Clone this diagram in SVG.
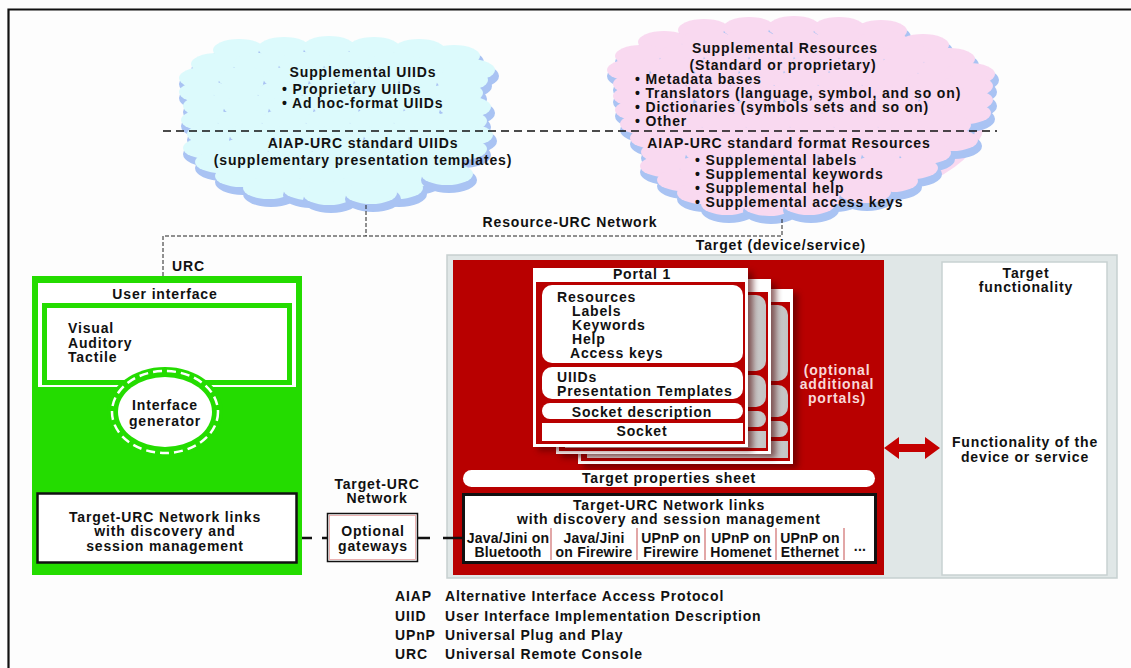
<svg xmlns="http://www.w3.org/2000/svg" xmlns:xlink="http://www.w3.org/1999/xlink" width="1131" height="668" viewBox="0 0 1131 668">
  <style>
    .t { font-family: "Liberation Sans", Arial, sans-serif; font-weight: bold; font-size: 14px; letter-spacing: 0.85px; fill: #111; }
    .c { text-anchor: middle; }
    .cell { letter-spacing: 0.2px; }
    .pink { fill: #f8d8d8; }
    .lobe { fill: #a9c3f3; }
    .thin { fill: none; stroke: #222; stroke-width: 1; stroke-dasharray: 4 2; }
    .thick { fill: none; stroke: #111; stroke-width: 2.5; }
    .sep { stroke: #d88a8a; stroke-width: 1.5; }
    .red { fill: #b80000; }
  </style>
  <defs>
    <!-- one fluffy cloud puff: bluish underside plus a body in the cloud colour -->
    <g id="puff">
      <ellipse class="lobe" cx="1" cy="6" rx="28" ry="13"/>
      <ellipse cx="-1" cy="0" rx="26" ry="11" fill="currentColor"/>
    </g>
    <linearGradient id="grayBox" x1="0" y1="0" x2="1" y2="0">
      <stop offset="0" stop-color="#f6f6f6"/>
      <stop offset="0.8" stop-color="#dcdcdc"/>
      <stop offset="1" stop-color="#c4c4c4"/>
    </linearGradient>
    <filter id="soft" x="-10%" y="-10%" width="130%" height="130%">
      <feGaussianBlur stdDeviation="3"/>
    </filter>
    <!-- a portal sheet seen behind the front one -->
    <g id="backPage">
      <rect x="5" y="4" width="215" height="175" fill="#4a0000" opacity="0.6" filter="url(#soft)"/>
      <rect x="0" y="0" width="215" height="175" fill="#fff"/>
      <rect x="3" y="13" width="209" height="159" class="red"/>
      <rect x="9" y="16" width="201" height="76" rx="10" fill="url(#grayBox)"/>
      <rect x="9" y="96" width="201" height="32" rx="10" fill="url(#grayBox)"/>
      <rect x="9" y="132" width="201" height="16" rx="8" fill="url(#grayBox)"/>
      <rect x="9" y="152" width="201" height="17" fill="url(#grayBox)"/>
    </g>
  </defs>

  <rect width="1131" height="668" fill="#fdfdfd"/>
  <!-- page frame -->
  <path d="M8.5,668 V9.5 H1131" fill="none" stroke="#111" stroke-width="2.2"/>

  <!-- Supplemental UIIDs cloud -->
  <g id="cloud-uiids" style="color:#dcfafc">
    <ellipse cx="335" cy="122" rx="150" ry="72" fill="currentColor"/>
    <use href="#puff" x="240" y="50"/><use href="#puff" x="285" y="48"/><use href="#puff" x="330" y="47"/><use href="#puff" x="375" y="48"/><use href="#puff" x="420" y="50"/><use href="#puff" x="455" y="56"/>
    <use href="#puff" x="218" y="64"/><use href="#puff" x="260" y="64"/><use href="#puff" x="305" y="63"/><use href="#puff" x="350" y="63"/><use href="#puff" x="395" y="64"/><use href="#puff" x="440" y="65"/><use href="#puff" x="470" y="70"/>
    <use href="#puff" x="206" y="78"/><use href="#puff" x="245" y="78"/><use href="#puff" x="290" y="78"/><use href="#puff" x="335" y="78"/><use href="#puff" x="380" y="78"/><use href="#puff" x="425" y="78"/><use href="#puff" x="463" y="80"/>
    <use href="#puff" x="206" y="92"/><use href="#puff" x="240" y="92"/><use href="#puff" x="284" y="92"/><use href="#puff" x="328" y="92"/><use href="#puff" x="372" y="92"/><use href="#puff" x="416" y="92"/><use href="#puff" x="458" y="93"/>
    <use href="#puff" x="210" y="106"/><use href="#puff" x="250" y="106"/><use href="#puff" x="295" y="106"/><use href="#puff" x="340" y="106"/><use href="#puff" x="385" y="106"/><use href="#puff" x="430" y="106"/><use href="#puff" x="466" y="107"/>
    <use href="#puff" x="208" y="120"/><use href="#puff" x="244" y="120"/><use href="#puff" x="288" y="120"/><use href="#puff" x="332" y="120"/><use href="#puff" x="376" y="120"/><use href="#puff" x="420" y="120"/><use href="#puff" x="462" y="121"/>
    <use href="#puff" x="214" y="134"/><use href="#puff" x="256" y="134"/><use href="#puff" x="300" y="134"/><use href="#puff" x="345" y="134"/><use href="#puff" x="390" y="134"/><use href="#puff" x="435" y="134"/><use href="#puff" x="468" y="135"/>
    <use href="#puff" x="210" y="148"/><use href="#puff" x="250" y="148"/><use href="#puff" x="294" y="148"/><use href="#puff" x="338" y="148"/><use href="#puff" x="382" y="148"/><use href="#puff" x="426" y="148"/><use href="#puff" x="462" y="149"/>
    <use href="#puff" x="222" y="162"/><use href="#puff" x="262" y="162"/><use href="#puff" x="306" y="162"/><use href="#puff" x="350" y="162"/><use href="#puff" x="394" y="162"/><use href="#puff" x="438" y="162"/>
    <use href="#puff" x="242" y="176"/><use href="#puff" x="282" y="176"/><use href="#puff" x="326" y="176"/><use href="#puff" x="370" y="176"/><use href="#puff" x="414" y="176"/><use href="#puff" x="448" y="174"/>
    <use href="#puff" x="270" y="188"/><use href="#puff" x="310" y="189"/><use href="#puff" x="354" y="189"/><use href="#puff" x="398" y="188"/>
    <use href="#puff" x="330" y="194"/><use href="#puff" x="372" y="193"/>
    <text class="t c" x="363" y="77">Supplemental UIIDs</text>
    <text class="t" x="282" y="94">• Proprietary UIIDs</text>
    <text class="t" x="282" y="108">• Ad hoc-format UIIDs</text>
    <text class="t c" x="363" y="148">AIAP-URC standard UIIDs</text>
    <text class="t c" x="363" y="165">(supplementary presentation templates)</text>
  </g>

  <!-- Supplemental Resources cloud -->
  <g id="cloud-resources" style="color:#f9d9f0">
    <ellipse cx="805" cy="118" rx="180" ry="88" fill="currentColor"/>
    <use href="#puff" x="705" y="30"/><use href="#puff" x="750" y="28"/><use href="#puff" x="795" y="27"/><use href="#puff" x="840" y="28"/><use href="#puff" x="882" y="31"/>
    <use href="#puff" x="665" y="42"/><use href="#puff" x="708" y="41"/><use href="#puff" x="752" y="40"/><use href="#puff" x="796" y="40"/><use href="#puff" x="840" y="41"/><use href="#puff" x="884" y="42"/><use href="#puff" x="924" y="45"/>
    <use href="#puff" x="642" y="56"/><use href="#puff" x="686" y="55"/><use href="#puff" x="730" y="54"/><use href="#puff" x="775" y="54"/><use href="#puff" x="820" y="54"/><use href="#puff" x="865" y="55"/><use href="#puff" x="910" y="56"/><use href="#puff" x="950" y="59"/>
    <use href="#puff" x="634" y="70"/><use href="#puff" x="676" y="68"/><use href="#puff" x="720" y="68"/><use href="#puff" x="765" y="68"/><use href="#puff" x="810" y="68"/><use href="#puff" x="855" y="68"/><use href="#puff" x="900" y="69"/><use href="#puff" x="944" y="70"/><use href="#puff" x="970" y="74"/>
    <use href="#puff" x="640" y="84"/><use href="#puff" x="668" y="82"/><use href="#puff" x="712" y="82"/><use href="#puff" x="756" y="82"/><use href="#puff" x="800" y="82"/><use href="#puff" x="844" y="82"/><use href="#puff" x="888" y="82"/><use href="#puff" x="932" y="83"/><use href="#puff" x="968" y="86"/>
    <use href="#puff" x="640" y="96"/><use href="#puff" x="675" y="96"/><use href="#puff" x="720" y="96"/><use href="#puff" x="765" y="96"/><use href="#puff" x="810" y="96"/><use href="#puff" x="855" y="96"/><use href="#puff" x="900" y="96"/><use href="#puff" x="945" y="96"/><use href="#puff" x="968" y="100"/>
    <use href="#puff" x="642" y="110"/><use href="#puff" x="672" y="110"/><use href="#puff" x="716" y="110"/><use href="#puff" x="760" y="110"/><use href="#puff" x="804" y="110"/><use href="#puff" x="848" y="110"/><use href="#puff" x="892" y="110"/><use href="#puff" x="936" y="110"/><use href="#puff" x="966" y="113"/>
    <use href="#puff" x="647" y="124"/><use href="#puff" x="684" y="124"/><use href="#puff" x="728" y="124"/><use href="#puff" x="772" y="124"/><use href="#puff" x="816" y="124"/><use href="#puff" x="860" y="124"/><use href="#puff" x="904" y="124"/><use href="#puff" x="946" y="125"/>
    <use href="#puff" x="657" y="138"/><use href="#puff" x="698" y="138"/><use href="#puff" x="742" y="138"/><use href="#puff" x="786" y="138"/><use href="#puff" x="830" y="138"/><use href="#puff" x="874" y="138"/><use href="#puff" x="918" y="138"/><use href="#puff" x="953" y="140"/>
    <use href="#puff" x="668" y="152"/><use href="#puff" x="712" y="152"/><use href="#puff" x="756" y="152"/><use href="#puff" x="800" y="152"/><use href="#puff" x="844" y="152"/><use href="#puff" x="888" y="152"/><use href="#puff" x="926" y="153"/>
    <use href="#puff" x="667" y="166"/><use href="#puff" x="706" y="166"/><use href="#puff" x="750" y="166"/><use href="#puff" x="794" y="166"/><use href="#puff" x="838" y="166"/><use href="#puff" x="882" y="166"/><use href="#puff" x="913" y="168"/>
    <use href="#puff" x="684" y="180"/><use href="#puff" x="726" y="180"/><use href="#puff" x="770" y="180"/><use href="#puff" x="814" y="180"/><use href="#puff" x="858" y="180"/><use href="#puff" x="893" y="181"/>
    <use href="#puff" x="704" y="193"/><use href="#puff" x="746" y="194"/><use href="#puff" x="790" y="194"/><use href="#puff" x="834" y="193"/><use href="#puff" x="866" y="192"/>
    <use href="#puff" x="728" y="204"/><use href="#puff" x="770" y="205"/><use href="#puff" x="810" y="204"/>
    <text class="t c" x="785" y="53">Supplemental Resources</text>
    <text class="t c" x="783" y="70">(Standard or proprietary)</text>
    <text class="t" x="635" y="84">• Metadata bases</text>
    <text class="t" x="635" y="98">• Translators (language, symbol, and so on)</text>
    <text class="t" x="635" y="112">• Dictionaries (symbols sets and so on)</text>
    <text class="t" x="635" y="126">• Other</text>
    <text class="t c" x="789" y="148">AIAP-URC standard format Resources</text>
    <text class="t" x="695" y="165">• Supplemental labels</text>
    <text class="t" x="695" y="179">• Supplemental keywords</text>
    <text class="t" x="695" y="193">• Supplemental help</text>
    <text class="t" x="695" y="207">• Supplemental access keys</text>
  </g>

  <!-- boundary between supplemental and standard content -->
  <line x1="163" y1="131" x2="997" y2="131" stroke="#111" stroke-width="1.5" stroke-dasharray="8 5"/>

  <!-- Target (device/service) -->
  <g id="target">
    <text class="t c" x="781" y="250">Target (device/service)</text>
    <rect x="447" y="255" width="670" height="323" fill="#e0e7e7" stroke="#c6d0d0" stroke-width="1.5"/>
    <rect x="453" y="260" width="431" height="315" class="red"/>
  </g>

  <g id="target-functionality">
    <rect x="942" y="262" width="165" height="313" fill="#fff" stroke="#c8d2d2" stroke-width="1.5"/>
    <text class="t c" x="1026" y="278">Target</text>
    <text class="t c" x="1026" y="292">functionality</text>
    <text class="t c" x="1025" y="447">Functionality of the</text>
    <text class="t c" x="1025" y="462">device or service</text>
  </g>

  <!-- additional portals stacked behind Portal 1 -->
  <g id="portals-extra">
    <use href="#backPage" x="578" y="289"/>
    <use href="#backPage" x="556" y="279"/>
    <text class="t c pink" x="837" y="375">(optional</text>
    <text class="t c pink" x="837" y="389">additional</text>
    <text class="t c pink" x="837" y="403">portals)</text>
  </g>

  <g id="portal-1">
    <rect x="538" y="272" width="215" height="179" fill="#4a0000" opacity="0.6" filter="url(#soft)"/>
    <rect x="533" y="268" width="215" height="179" fill="#fff"/>
    <rect x="536" y="282" width="209" height="162" class="red"/>
    <rect x="542" y="285" width="201" height="78" rx="10" fill="#fff"/>
    <rect x="542" y="367" width="201" height="32" rx="10" fill="#fff"/>
    <rect x="542" y="403" width="201" height="16" rx="8" fill="#fff"/>
    <rect x="542" y="423" width="201" height="18" fill="#fff"/>
    <text class="t c" x="642" y="279">Portal 1</text>
    <text class="t" x="557" y="302">Resources</text>
    <text class="t" x="572" y="316">Labels</text>
    <text class="t" x="572" y="330">Keywords</text>
    <text class="t" x="572" y="344">Help</text>
    <text class="t" x="570" y="358">Access keys</text>
    <text class="t" x="557" y="382">UIIDs</text>
    <text class="t" x="557" y="396">Presentation Templates</text>
    <text class="t c" x="642" y="417">Socket description</text>
    <text class="t c" x="642" y="436">Socket</text>
  </g>

  <g id="target-properties">
    <rect x="463" y="470" width="412" height="17" rx="8.5" fill="#fff"/>
    <text class="t c" x="669" y="483">Target properties sheet</text>
  </g>

  <g id="target-links">
    <rect x="463.5" y="494.5" width="412" height="68" fill="#fff" stroke="#111" stroke-width="3"/>
    <text class="t c" x="669" y="510">Target-URC Network links</text>
    <text class="t c" x="669" y="524">with discovery and session management</text>
    <line class="sep" x1="551" y1="528" x2="551" y2="560"/>
    <line class="sep" x1="637" y1="528" x2="637" y2="560"/>
    <line class="sep" x1="705" y1="528" x2="705" y2="560"/>
    <line class="sep" x1="776" y1="528" x2="776" y2="560"/>
    <line class="sep" x1="844" y1="528" x2="844" y2="560"/>
    <text class="t c cell" x="508" y="543">Java/Jini on</text>
    <text class="t c cell" x="508" y="557">Bluetooth</text>
    <text class="t c cell" x="594" y="543">Java/Jini</text>
    <text class="t c cell" x="594" y="557">on Firewire</text>
    <text class="t c cell" x="671" y="543">UPnP on</text>
    <text class="t c cell" x="671" y="557">Firewire</text>
    <text class="t c cell" x="741" y="543">UPnP on</text>
    <text class="t c cell" x="741" y="557">Homenet</text>
    <text class="t c cell" x="810" y="543">UPnP on</text>
    <text class="t c cell" x="810" y="557">Ethernet</text>
    <text class="t c cell" x="860" y="551">...</text>
  </g>

  <!-- URC -->
  <g id="urc">
    <text class="t" x="172" y="271">URC</text>
    <rect x="32" y="276" width="270" height="299" fill="#24dc00"/>
    <rect x="38" y="283" width="258" height="104" fill="#fff"/>
    <text class="t c" x="165" y="299">User interface</text>
    <rect x="44.5" y="305.5" width="245" height="77" fill="#fff" stroke="#24dc00" stroke-width="5"/>
    <text class="t" x="68" y="333">Visual</text>
    <text class="t" x="68" y="348">Auditory</text>
    <text class="t" x="68" y="362">Tactile</text>
  </g>

  <g id="interface-generator">
    <ellipse cx="165" cy="412" rx="58" ry="45" fill="#24dc00"/>
    <ellipse cx="165" cy="412" rx="53" ry="41" fill="none" stroke="#fff" stroke-width="2.5" stroke-dasharray="9 5"/>
    <ellipse cx="165" cy="412" rx="47" ry="35" fill="#fff"/>
    <text class="t c" x="165" y="410">Interface</text>
    <text class="t c" x="165" y="426">generator</text>
  </g>

  <g id="urc-links">
    <rect x="37.5" y="493.5" width="259" height="69" fill="#fff" stroke="#111" stroke-width="2.5"/>
    <text class="t c" x="165" y="522">Target-URC Network links</text>
    <text class="t c" x="165" y="536">with discovery and</text>
    <text class="t c" x="165" y="551">session management</text>
  </g>

  <g id="gateways">
    <text class="t c" x="377" y="489">Target-URC</text>
    <text class="t c" x="377" y="503">Network</text>
    <rect x="327.5" y="513.5" width="90" height="48" fill="#fff" stroke="#111" stroke-width="1.5"/>
    <rect x="329.5" y="515.5" width="86" height="44" fill="none" stroke="#e7a0a0" stroke-width="0.8"/>
    <text class="t c" x="373" y="536">Optional</text>
    <text class="t c" x="373" y="551">gateways</text>
  </g>

  <!-- connectors -->
  <g id="connectors">
    <path class="thin" d="M163,276 V236 H782 V218"/>
    <path class="thin" d="M366,205 V236"/>
    <path class="thick" d="M302,538 H312 M322,538 H327"/>
    <path class="thick" d="M418,538 H430 M443,538 H462"/>
    <polygon fill="#c40000" points="884,448 899,437 899,444 925,444 925,437 940,448 925,459 925,452 899,452 899,459"/>
    <text class="t c" x="570" y="227">Resource-URC Network</text>
  </g>

  <!-- abbreviations -->
  <g id="legend">
    <text class="t" x="395" y="601">AIAP</text>
    <text class="t" x="445" y="601">Alternative Interface Access Protocol</text>
    <text class="t" x="395" y="621">UIID</text>
    <text class="t" x="445" y="621">User Interface Implementation Description</text>
    <text class="t" x="395" y="640">UPnP</text>
    <text class="t" x="445" y="640">Universal Plug and Play</text>
    <text class="t" x="395" y="659">URC</text>
    <text class="t" x="445" y="659">Universal Remote Console</text>
  </g>
</svg>
